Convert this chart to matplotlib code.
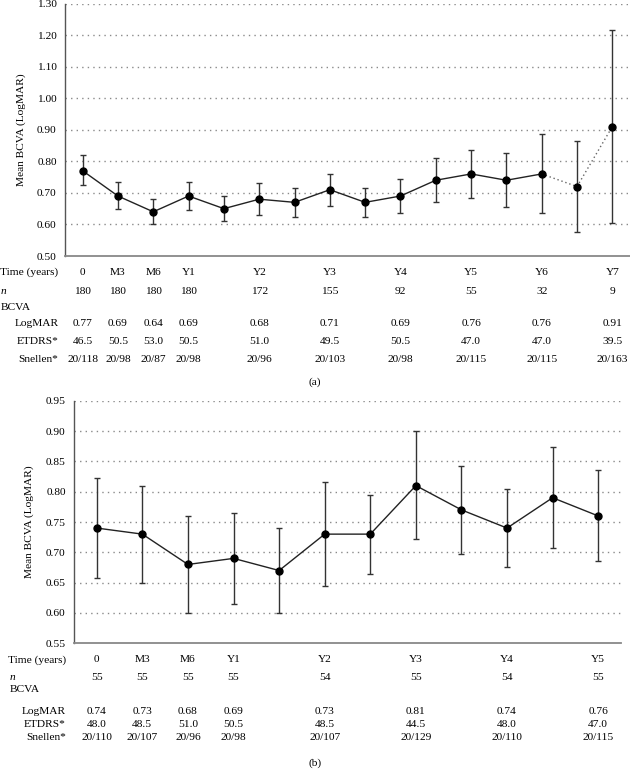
import matplotlib
matplotlib.use("Agg")
import matplotlib.pyplot as plt
from matplotlib.transforms import blended_transform_factory

plt.rcParams['font.family'] = ['Liberation Serif', 'DejaVu Serif']
plt.rcParams['font.size'] = 8.2

# --- panel (a) data: 16 visits, half-year steps after Y1 ---
means_a = [0.77, 0.69, 0.64, 0.69, 0.65, 0.68, 0.67, 0.71, 0.67, 0.69, 0.74, 0.76, 0.74, 0.76, 0.72, 0.91]
upper_a = [0.82, 0.735, 0.68, 0.735, 0.69, 0.73, 0.715, 0.76, 0.715, 0.745, 0.81, 0.835, 0.825, 0.885, 0.865, 1.215]
lower_a = [0.725, 0.65, 0.60, 0.645, 0.61, 0.63, 0.625, 0.66, 0.625, 0.635, 0.67, 0.685, 0.655, 0.635, 0.575, 0.605]
cols_a = [0, 1, 2, 3, 5, 7, 9, 11, 13, 15]
time_a = ['0', 'M3', 'M6', 'Y1', 'Y2', 'Y3', 'Y4', 'Y5', 'Y6', 'Y7']
n_a = ['180', '180', '180', '180', '172', '155', '92', '55', '32', '9']
logmar_a = ['0.77', '0.69', '0.64', '0.69', '0.68', '0.71', '0.69', '0.76', '0.76', '0.91']
etdrs_a = ['46.5', '50.5', '53.0', '50.5', '51.0', '49.5', '50.5', '47.0', '47.0', '39.5']
snellen_a = ['20/118', '20/98', '20/87', '20/98', '20/96', '20/103', '20/98', '20/115', '20/115', '20/163']

# --- panel (b) data: 12 visits ---
means_b = [0.74, 0.73, 0.68, 0.69, 0.67, 0.73, 0.73, 0.81, 0.77, 0.74, 0.79, 0.76]
upper_b = [0.822, 0.81, 0.76, 0.765, 0.74, 0.816, 0.795, 0.90, 0.842, 0.805, 0.873, 0.836]
lower_b = [0.658, 0.65, 0.60, 0.615, 0.60, 0.645, 0.665, 0.722, 0.698, 0.675, 0.707, 0.685]
cols_b = [0, 1, 2, 3, 5, 7, 9, 11]
time_b = ['0', 'M3', 'M6', 'Y1', 'Y2', 'Y3', 'Y4', 'Y5']
n_b = ['55', '55', '55', '55', '54', '55', '54', '55']
logmar_b = ['0.74', '0.73', '0.68', '0.69', '0.73', '0.81', '0.74', '0.76']
etdrs_b = ['48.0', '48.5', '51.0', '50.5', '48.5', '44.5', '48.0', '47.0']
snellen_b = ['20/110', '20/107', '20/96', '20/98', '20/107', '20/129', '20/110', '20/115']

W, H = 630, 770
fig = plt.figure(figsize=(W / 100, H / 100), dpi=100)


def fy(py):
    return 1 - py / H


def make_axes(left, right, top, bottom):
    return fig.add_axes([left / W, fy(bottom), (right - left) / W, (bottom - top) / H])


def draw_panel(ax, means, upper, lower, solid_end, ylim, yticks):
    x = list(range(len(means)))
    yerr = [[m - lo for m, lo in zip(means, lower)], [u - m for m, u in zip(means, upper)]]
    for yv in yticks[1:]:
        ax.axhline(yv, color='#8a8a8a', lw=1.0, ls=(0, (1, 3)), zorder=0)
    ax.errorbar(x, means, yerr=yerr, fmt='none', ecolor='#333333', elinewidth=1.0,
                capsize=2.2, capthick=1.0, zorder=2)
    ax.plot(x[:solid_end + 1], means[:solid_end + 1], color='#222222', lw=1.0, zorder=3)
    if solid_end < len(means) - 1:
        ax.plot(x[solid_end:], means[solid_end:], color='#666666', lw=1.0,
                ls=(0, (1, 2)), zorder=3)
    ax.plot(x, means, 'o', color='black', ms=5, zorder=4)
    ax.set_xlim(-0.5, len(means) - 0.5)
    ax.set_ylim(*ylim)
    ax.set_yticks(yticks)
    ax.set_xticks([])
    ax.tick_params(axis='y', length=0, pad=6)
    for s in ['top', 'right']:
        ax.spines[s].set_visible(False)
    ax.spines['left'].set_color('#555555')
    ax.spines['bottom'].set_color('#888888')
    ax.spines['left'].set_linewidth(1.0)
    ax.spines['bottom'].set_linewidth(1.3)
    ax.set_ylabel('Mean BCVA (LogMAR)', labelpad=8)


def draw_table(ax, cols, rows, label_x, row_y, n_y, bcva_y, left_x):
    tr = blended_transform_factory(ax.transData, fig.transFigure)
    names = ['Time (years)', 'LogMAR', 'ETDRS*', 'Snellen*']
    for name, yy in zip(names, row_y):
        fig.text(label_x / W, fy(yy), name, ha='right', va='center')
    fig.text(left_x / W, fy(n_y), 'n', style='italic', ha='left', va='center')
    fig.text(left_x / W, fy(bcva_y), 'BCVA', ha='left', va='center')
    row_pos = [row_y[0], n_y, row_y[1], row_y[2], row_y[3]]
    for vals, yy in zip(rows, row_pos):
        for c, v in zip(cols, vals):
            ax.text(c, fy(yy), v, transform=tr, ha='center', va='center')


# panel (a)
ax_a = make_axes(65, 630, 3.5, 256)
draw_panel(ax_a, means_a, upper_a, lower_a, 13, (0.50, 1.30),
           [0.50, 0.60, 0.70, 0.80, 0.90, 1.00, 1.10, 1.20, 1.30])
ax_a.set_yticklabels(['%.2f' % v for v in ax_a.get_yticks()])
draw_table(ax_a, cols_a, [time_a, n_a, logmar_a, etdrs_a, snellen_a],
           58.5, [272.5, 324, 342, 360], 291.5, 307, 1)
fig.text(315 / W, fy(382), '(a)', ha='center', va='center')

# panel (b)
ax_b = make_axes(74, 621, 400.7, 643.3)
draw_panel(ax_b, means_b, upper_b, lower_b, len(means_b) - 1, (0.55, 0.95),
           [0.55, 0.60, 0.65, 0.70, 0.75, 0.80, 0.85, 0.90, 0.95])
ax_b.set_yticklabels(['%.2f' % v for v in ax_b.get_yticks()])
draw_table(ax_b, cols_b, [time_b, n_b, logmar_b, etdrs_b, snellen_b],
           66, [660, 711, 724.3, 737.5], 677, 689.5, 10)
fig.text(315 / W, fy(763), '(b)', ha='center', va='center')

fig.savefig('out.png', dpi=100)
